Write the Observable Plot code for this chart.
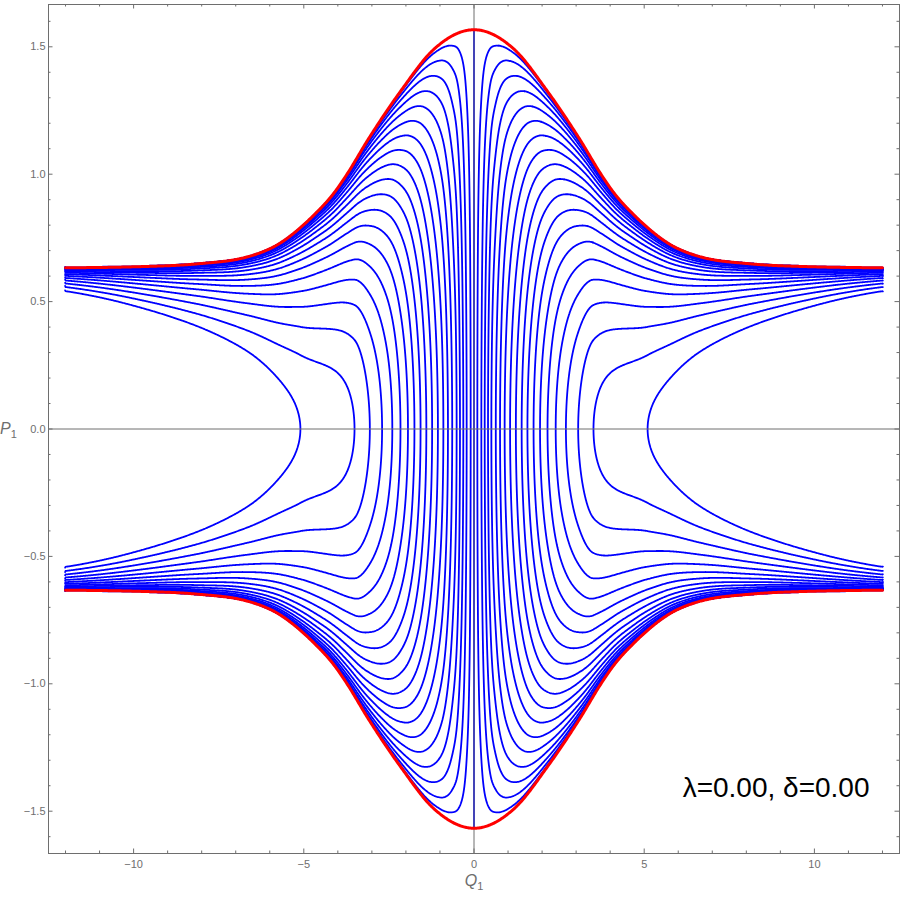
<!DOCTYPE html>
<html>
<head>
<meta charset="utf-8">
<script src="https://cdn.jsdelivr.net/npm/d3@7"></script>
<script src="https://cdn.jsdelivr.net/npm/@observablehq/plot@0.6"></script>
<style>
  html, body { margin: 0; padding: 0; background: #fff; }
  #chart { width: 900px; height: 900px; }
</style>
</head>
<body>
<div id="chart"></div>
<script>
// ---------- data ----------
// red separatrix (upper branch), Q1 >= 0 half; the picture is mirror-symmetric
const envelopeQ = [0, 1.18, 2.16, 3.14, 3.73, 4.12, 4.7, 5.1, 5.69, 6.67, 8.14, 9.6, 12, 12.5];
const envelopeP = [1.567, 1.49, 1.325, 1.13, 1.0, 0.925, 0.84, 0.79, 0.73, 0.675, 0.648, 0.638, 0.633, 0.633];
// Q1 where each blue orbit crosses P1 = 0 (right side, inner to outer)
const crossingQ = [0.098, 0.216, 0.314, 0.412, 0.51, 0.64, 0.765, 0.90, 1.06, 1.23,
                   1.40, 1.57, 1.75, 1.94, 2.16, 2.40, 2.70, 3.06, 3.51, 5.10];
// points read on the upper branch of the outermost orbit
const outerQ = [5.69, 6.67, 8.14, 9.6, 12.0];
const outerP = [0.188, 0.306, 0.404, 0.469, 0.541];
// axis ticks
const xTicksMajor = [-10, -5, 0, 5, 10];
const xTicksMinor = [-12, -11, -9, -8, -7, -6, -4, -3, -2, -1, 1, 2, 3, 4, 6, 7, 8, 9, 11, 12];
const yTicksMajor = [-1.5, -1, -0.5, 0, 0.5, 1, 1.5];
const yTicksMinor = [-1.6, -1.4, -1.3, -1.2, -1.1, -0.9, -0.8, -0.7, -0.6, -0.4, -0.3, -0.2, -0.1,
                     0.1, 0.2, 0.3, 0.4, 0.6, 0.7, 0.8, 0.9, 1.1, 1.2, 1.3, 1.4, 1.6];
const xLabel = ["Q", "1"];
const yLabel = ["P", "1"];
const panelLabel = ["λ=0.00, δ=0.00"];

// ---------- helpers ----------
function monotone(xs, ys) {
  const n = xs.length, hs = [], d = [], m = new Array(n);
  for (let i = 0; i < n - 1; i++) { hs[i] = xs[i + 1] - xs[i]; d[i] = (ys[i + 1] - ys[i]) / hs[i]; }
  m[0] = d[0]; m[n - 1] = d[n - 2];
  for (let i = 1; i < n - 1; i++) {
    const p = (d[i - 1] * hs[i] + d[i] * hs[i - 1]) / (hs[i - 1] + hs[i]);
    m[i] = (Math.sign(d[i - 1]) + Math.sign(d[i])) * Math.min(Math.abs(d[i - 1]), Math.abs(d[i]), 0.5 * Math.abs(p));
  }
  return x => {
    if (x <= xs[0]) return ys[0] + m[0] * (x - xs[0]);
    if (x >= xs[n - 1]) return ys[n - 1] + m[n - 1] * (x - xs[n - 1]);
    let lo = 0, hi = n - 1;
    while (hi - lo > 1) { const mid = (lo + hi) >> 1; if (xs[mid] <= x) lo = mid; else hi = mid; }
    const h = hs[lo], t = (x - xs[lo]) / h, t2 = t * t, t3 = t2 * t;
    return (2 * t3 - 3 * t2 + 1) * ys[lo] + (t3 - 2 * t2 + t) * h * m[lo]
         + (-2 * t3 + 3 * t2) * ys[lo + 1] + (t3 - t2) * h * m[lo + 1];
  };
}
const mirrorX = a => a.slice(1).reverse().map(v => -v).concat(a);
const mirrorEven = a => a.slice(1).reverse().concat(a);
const mirrorOdd = a => a.slice(1).reverse().map(v => -v).concat(a);

// envelope through the read points
const Pmax = monotone(mirrorX(envelopeQ), mirrorEven(envelopeP));
const pTop = envelopeP[0], pInf = envelopeP[envelopeP.length - 1];
const BETA = 0.45;
const expo = pm => { const t = (pm - pInf) / (pTop - pInf); return BETA * pm * (1 - 0.15 * t * t); };
const shape = (s, pm) => (s >= 1 ? 0 : Math.pow(1 - s * s, expo(pm)));

// level function along P1 = 0: orbit k crosses at crossingQ[k-1]
const hQ = [0, ...crossingQ, ...outerQ];
const hV = [0, ...crossingQ.map((q, i) => i + 1),
            ...outerQ.map((q, i) => crossingQ.length / shape(outerP[i] / Pmax(q), Pmax(q)))];
const hFun = monotone(mirrorX(hQ), mirrorOdd(hV));
const levelsPos = crossingQ.map(q => hFun(q));
const levels = [...levelsPos.map(v => -v).reverse(), ...levelsPos];

// ---------- sample the field and trace the orbits ----------
const nx = 1100, ny = 760;
const Qlo = -12, Qhi = 12, Plo = -1.62, Phi = 1.62;
const dq = (Qhi - Qlo) / (nx - 1), dp = (Phi - Plo) / (ny - 1);
const field = new Float64Array(nx * ny);
for (let i = 0; i < nx; i++) {
  const q = Qlo + i * dq, pm = Pmax(q), hh = hFun(q);
  for (let j = 0; j < ny; j++) {
    const p = Plo + j * dp;
    field[j * nx + i] = hh * shape(Math.abs(p) / pm, pm);
  }
}
const contours = d3.contours().size([nx, ny]).thresholds(levels)(field);
const blueLines = [];
let lineId = 0;
const onBorder = pt => pt[0] <= 1e-6 || pt[0] >= nx - 1e-6 || pt[1] <= 1e-6 || pt[1] >= ny - 1e-6;
const flush = cur => {
  if (cur.length < 2) return;
  lineId++;
  for (const pt of cur) blueLines.push({x: Qlo + (pt[0] - 0.5) * dq, y: Plo + (pt[1] - 0.5) * dp, id: lineId});
};
for (const c of contours) for (const poly of c.coordinates) for (const ring of poly) {
  let cur = [];
  for (let i = 0; i < ring.length - 1; i++) {
    const a = ring[i], b = ring[i + 1];
    if (onBorder(a) && onBorder(b)) { flush(cur); cur = []; continue; }
    if (!cur.length) cur.push(a);
    cur.push(b);
  }
  flush(cur);
}

// red separatrix sampled from the envelope
const redLines = [];
for (let q = -12; q <= 12.0001; q += 0.025) {
  redLines.push({x: q, y: Pmax(q), id: "upper"});
  redLines.push({x: q, y: -Pmax(q), id: "lower"});
}

// ---------- plot ----------
const W = 900, H = 900, mL = 48, mR = 1, mT = 4, mB = 47;
const frameW = W - mL - mR, frameH = H - mT - mB;
const gray = "#6e6e6e", blue = "#0000ff", red = "#ff0000";
const majorLen = 4.5, minorLen = 2.5;

const chart = Plot.plot({
  width: W, height: H,
  marginLeft: mL, marginRight: mR, marginTop: mT, marginBottom: mB,
  x: {domain: [-12.5, 12.5], axis: null},
  y: {domain: [-1.666, 1.666], axis: null},
  style: {fontFamily: "'Liberation Sans', Arial, sans-serif", background: "#fff", overflow: "visible"},
  marks: [
    Plot.ruleX([0], {y1: -envelopeP[0], y2: envelopeP[0], stroke: blue, strokeWidth: 1.8}),
    Plot.line(blueLines, {x: "x", y: "y", z: "id", stroke: blue, strokeWidth: 1.8}),
    Plot.ruleY([0], {stroke: gray, strokeWidth: 1}),
    Plot.ruleX([0], {stroke: gray, strokeWidth: 1}),
    Plot.line(redLines, {x: "x", y: "y", z: "id", stroke: red, strokeWidth: 3}),
    Plot.frame({stroke: gray, strokeWidth: 1}),
    // inward ticks on all four sides
    Plot.tickX(xTicksMajor, {x: d => d, stroke: gray, insetTop: frameH - majorLen}),
    Plot.tickX(xTicksMinor, {x: d => d, stroke: gray, insetTop: frameH - minorLen}),
    Plot.tickX(xTicksMajor, {x: d => d, stroke: gray, insetBottom: frameH - majorLen}),
    Plot.tickX(xTicksMinor, {x: d => d, stroke: gray, insetBottom: frameH - minorLen}),
    Plot.tickY(yTicksMajor, {y: d => d, stroke: gray, insetRight: frameW - majorLen}),
    Plot.tickY(yTicksMinor, {y: d => d, stroke: gray, insetRight: frameW - minorLen}),
    Plot.tickY(yTicksMajor, {y: d => d, stroke: gray, insetLeft: frameW - majorLen}),
    Plot.tickY(yTicksMinor, {y: d => d, stroke: gray, insetLeft: frameW - minorLen}),
    Plot.axisX(xTicksMajor, {anchor: "bottom", tickSize: 0, tickPadding: 7, fontSize: 11, color: gray,
                             tickFormat: d3.format("d"), label: null}),
    Plot.axisY(yTicksMajor, {anchor: "left", tickSize: 0, tickPadding: 3, fontSize: 11, color: gray,
                             tickFormat: d3.format(".1f"), label: null}),
    Plot.text([xLabel.join("")], {x: 0, frameAnchor: "bottom", dy: 32, fontSize: 16, fill: gray,
                                  textAnchor: "middle"}),
    Plot.text([yLabel.join("")], {frameAnchor: "left", dx: -40, fontSize: 16, fill: gray, textAnchor: "middle"}),
    Plot.text(panelLabel, {frameAnchor: "bottom-right", dx: -30, dy: -57, textAnchor: "end",
                           fontSize: 28, fill: "#000"})
  ]
});

// typeset the axis labels as italic letter + subscript
for (const lab of [xLabel, yLabel]) {
  d3.select(chart).selectAll("text").filter(function () { return this.textContent === lab.join(""); })
    .each(function () {
      const t = d3.select(this);
      t.text(null);
      t.append("tspan").attr("font-style", "italic").text(lab[0]);
      t.append("tspan").attr("font-size", "11").attr("dy", "4").text(lab[1]);
    });
}
document.getElementById("chart").appendChild(chart);
</script>
</body>
</html>
